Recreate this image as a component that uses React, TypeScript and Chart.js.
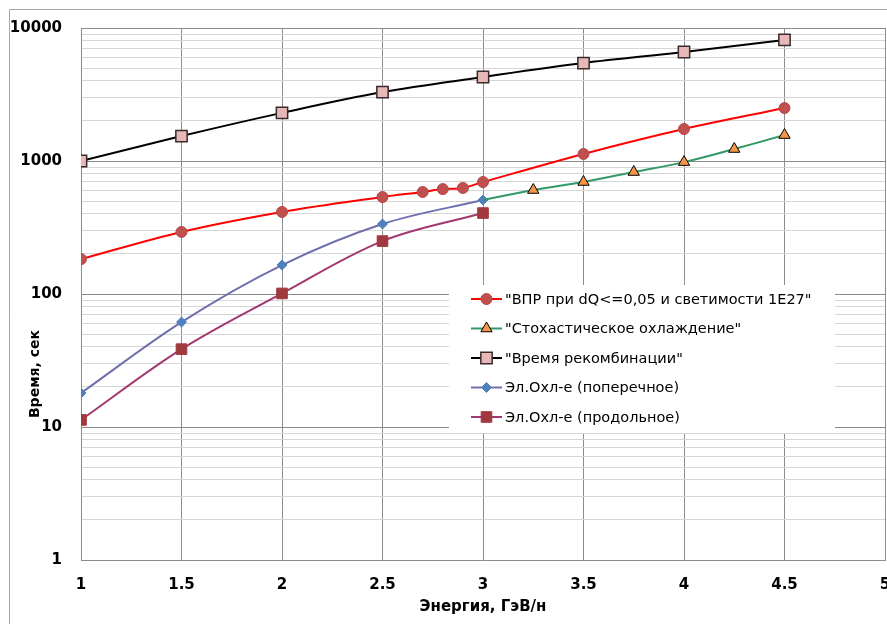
import React, { useEffect, useRef } from 'react';
import { Chart, registerables } from 'chart.js';

Chart.register(...registerables);

// ---- data ----
const recombEnergy = [1, 1.5, 2, 2.5, 3, 3.5, 4, 4.5];
const recombTime = [1000, 1540, 2300, 3300, 4280, 5450, 6600, 8130];

const vprEnergy = [1, 1.5, 2, 2.5, 2.7, 2.8, 2.9, 3, 3.5, 4, 4.5];
const vprTime = [183, 293, 414, 536, 585, 615, 627, 695, 1130, 1740, 2500];

const stochEnergy = [3, 3.25, 3.5, 3.75, 4, 4.25, 4.5];
const stochTime = [509, 605, 695, 826, 981, 1230, 1567];

const elEnergy = [1, 1.5, 2, 2.5, 3];
const elTransverse = [18, 61.5, 165, 336, 509];
const elLongitudinal = [11.3, 38.5, 101, 250, 406];

const yMajorTicks = [1, 10, 100, 1000, 10000];
const yMinorMultipliers = [2, 3, 4, 5, 6, 7, 8, 9];

const labels = [
  '"ВПР при dQ<=0,05 и светимости 1E27"',
  '"Стохастическое охлаждение"',
  '"Время рекомбинации"',
  'Эл.Охл-е (поперечное)',
  'Эл.Охл-е (продольное)',
];

const styles = [
  { line: '#FF0000', fill: '#C0504D', stroke: '#B4474B', shape: 'circle', r: 5.5, bw: 1 },
  { line: '#339966', fill: '#F79646', stroke: '#000000', shape: 'triangle', r: 6.5, bw: 1 },
  { line: '#000000', fill: '#E6B9B8', stroke: '#3A2A2A', shape: 'rect', r: 8, bw: 1.5 },
  { line: '#6F6FAE', fill: '#4F81BD', stroke: '#4F81BD', shape: 'rectRot', r: 5, bw: 1 },
  { line: '#A3386E', fill: '#A0393E', stroke: '#A0393E', shape: 'rect', r: 7.5, bw: 1 },
];

const FONT = 'DejaVu Sans';

const pts = (xs: number[], ys: number[]) => xs.map((x, i) => ({ x, y: ys[i] }));

const isMajor = (v: number) => yMajorTicks.includes(v);

function drawMarker(ctx: CanvasRenderingContext2D, shape: string, x: number, y: number, r: number) {
  ctx.beginPath();
  if (shape === 'circle') {
    ctx.arc(x, y, r, 0, Math.PI * 2);
  } else if (shape === 'triangle') {
    ctx.moveTo(x, y - r);
    ctx.lineTo(x + r * 0.866, y + r / 2);
    ctx.lineTo(x - r * 0.866, y + r / 2);
    ctx.closePath();
  } else if (shape === 'rect') {
    const s = r * Math.SQRT1_2;
    ctx.rect(x - s, y - s, 2 * s, 2 * s);
  } else {
    ctx.moveTo(x - r, y);
    ctx.lineTo(x, y - r);
    ctx.lineTo(x + r, y);
    ctx.lineTo(x, y + r);
    ctx.closePath();
  }
  ctx.fill();
  ctx.stroke();
}

const framePlugin = {
  id: 'frame',
  beforeDraw(chart: any) {
    const { ctx, width, height } = chart;
    ctx.save();
    ctx.strokeStyle = '#a6a6a6';
    ctx.lineWidth = 1;
    ctx.beginPath();
    ctx.moveTo(1.5, height);
    ctx.lineTo(1.5, 1.5);
    ctx.lineTo(width, 1.5);
    ctx.stroke();
    ctx.restore();
  },
};

const legendPlugin = {
  id: 'customLegend',
  afterDraw(chart: any) {
    const ctx: CanvasRenderingContext2D = chart.ctx;
    ctx.save();
    ctx.fillStyle = '#ffffff';
    ctx.fillRect(441, 277, 386, 148);
    const y0 = 291;
    const dy = 29.5;
    labels.forEach((label, i) => {
      const st = styles[i];
      const y = y0 + i * dy;
      ctx.strokeStyle = st.line;
      ctx.lineWidth = 2;
      ctx.beginPath();
      ctx.moveTo(463, y);
      ctx.lineTo(494, y);
      ctx.stroke();
      ctx.fillStyle = st.fill;
      ctx.strokeStyle = st.stroke;
      ctx.lineWidth = st.bw;
      drawMarker(ctx, st.shape, 478.5, y, st.r);
      ctx.fillStyle = '#000';
      ctx.font = `14.5px "${FONT}"`;
      ctx.textAlign = 'left';
      ctx.textBaseline = 'middle';
      ctx.fillText(label, 497, y + 1);
    });
    ctx.restore();
  },
};

const yTitlePlugin = {
  id: 'yTitle',
  afterDraw(chart: any) {
    const ctx: CanvasRenderingContext2D = chart.ctx;
    ctx.save();
    ctx.translate(27, 366);
    ctx.rotate(-Math.PI / 2);
    ctx.fillStyle = '#000';
    ctx.font = `bold 14px "${FONT}"`;
    ctx.textAlign = 'center';
    ctx.textBaseline = 'middle';
    ctx.fillText('Время, сек', 0, 0);
    ctx.restore();
  },
};

function makeDataset(i: number, data: { x: number; y: number }[], radii?: number[]) {
  const st = styles[i];
  return {
    label: labels[i],
    data,
    borderColor: st.line,
    borderWidth: 2,
    backgroundColor: st.fill,
    pointStyle: st.shape,
    pointRadius: radii ?? st.r,
    pointBackgroundColor: st.fill,
    pointBorderColor: st.stroke,
    pointBorderWidth: st.bw,
    tension: 0.35,
    fill: false,
  };
}

export default function App() {
  const ref = useRef<HTMLCanvasElement>(null);

  useEffect(() => {
    const canvas = ref.current;
    if (!canvas) return;
    const tickFont = { family: FONT, size: 15, weight: 'bold' as const };
    const yTickValues: number[] = [];
    for (let k = 0; k < yMajorTicks.length; k++) {
      yTickValues.push(yMajorTicks[k]);
      if (k < yMajorTicks.length - 1) {
        yMinorMultipliers.forEach((m) => yTickValues.push(m * yMajorTicks[k]));
      }
    }

    const chart = new Chart(canvas, {
      type: 'line',
      data: {
        datasets: [
          makeDataset(0, pts(vprEnergy, vprTime)),
          makeDataset(1, pts(stochEnergy, stochTime), stochEnergy.map((_, i) => (i === 0 ? 0 : styles[1].r))),
          makeDataset(2, pts(recombEnergy, recombTime)),
          makeDataset(3, pts(elEnergy, elTransverse)),
          makeDataset(4, pts(elEnergy, elLongitudinal)),
        ] as any,
      },
      options: {
        responsive: false,
        animation: false,
        devicePixelRatio: 1,
        layout: { autoPadding: false, padding: { top: 20, right: 2, left: 0, bottom: 0 } },
        plugins: { legend: { display: false }, tooltip: { enabled: false } },
        scales: {
          x: {
            type: 'linear',
            min: 1,
            max: 5,
            ticks: {
              stepSize: 0.5,
              padding: 16,
              font: tickFont,
              color: '#000',
              maxRotation: 0,
              autoSkip: false,
              callback: (v: any) => String(Number(v)),
            },
            grid: { color: '#8c8c8c', drawTicks: false },
            border: { color: '#8c8c8c' },
            title: {
              display: true,
              text: 'Энергия, ГэВ/н',
              font: { family: FONT, size: 15, weight: 'bold' },
              color: '#000',
              padding: { top: 0, bottom: 8 },
            },
            afterFit: (s: any) => {
              s.height = 64;
              s.paddingLeft = 0;
              s.paddingRight = 0;
            },
          },
          y: {
            type: 'logarithmic',
            min: 1,
            max: 10000,
            afterBuildTicks: (s: any) => {
              s.ticks = yTickValues.map((v) => ({ value: v, major: isMajor(v) }));
            },
            ticks: {
              autoSkip: false,
              padding: 19,
              font: tickFont,
              color: '#000',
              callback: (v: any) => (isMajor(Number(v)) ? String(v) : ''),
            },
            grid: {
              drawTicks: false,
              color: (c: any) => (c.tick && isMajor(c.tick.value) ? '#8c8c8c' : '#d6d6d6'),
            },
            border: { color: '#8c8c8c' },
            afterFit: (s: any) => {
              s.width = 73;
              s.paddingTop = 0;
              s.paddingBottom = 0;
            },
          },
        },
      } as any,
      plugins: [framePlugin, legendPlugin, yTitlePlugin],
    });
    return () => chart.destroy();
  }, []);

  return (
    <div style={{ position: 'fixed', left: 8, top: 8, width: 879, height: 616 }}>
      <canvas ref={ref} width={879} height={616} style={{ display: 'block' }} />
    </div>
  );
}
